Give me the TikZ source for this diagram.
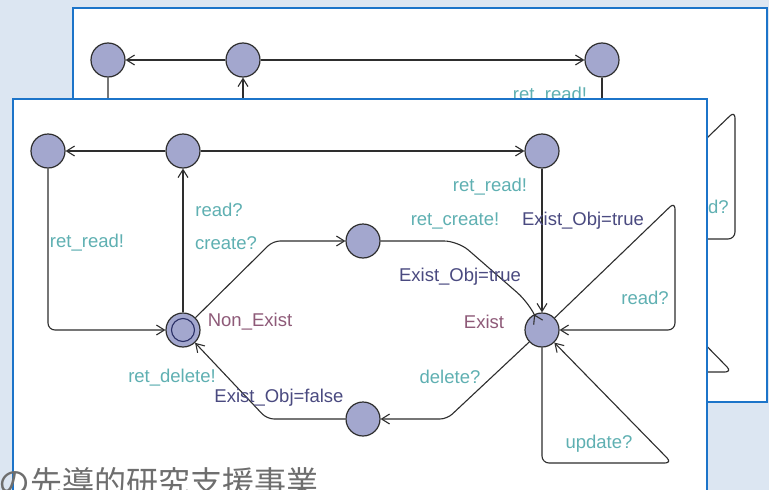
\documentclass[tikz,border=0pt]{standalone}
\usepackage{fontspec}
\setmainfont{Liberation Sans}
\newfontfamily\jpfont{Noto Sans CJK JP}
\usetikzlibrary{arrows.meta}

\definecolor{pagebg}{HTML}{DCE6F2}
\definecolor{frameblue}{HTML}{1C74C9}
\definecolor{locfill}{HTML}{A3A7CE}
\definecolor{edgegray}{HTML}{2E2E2E}
\definecolor{innerring}{HTML}{2A2F66}
\definecolor{synclabel}{HTML}{5FB0B2}
\definecolor{updlabel}{HTML}{4A4A80}
\definecolor{loclabel}{HTML}{8E5A78}
\definecolor{footgray}{HTML}{6E6E6E}

\tikzset{
  panel/.style={fill=white, draw=frameblue, line width=2pt},
  loc/.style={circle, draw=edgegray, fill=locfill, line width=1.2pt,
              minimum size=34pt, inner sep=0pt},
  trans/.style={draw=edgegray, line width=1.1pt, rounded corners=7pt,
                -{Straight Barb[length=8pt,width=10pt]}},
  lbl/.style={inner sep=0pt, font=\fontsize{18.5}{22}\selectfont},
  sync/.style={lbl, text=synclabel},
  upd/.style={lbl, text=updlabel},
  locname/.style={lbl, text=loclabel},
}

% One copy of the automaton: locations, transitions and labels
\newcommand\objectmodel{%
  \node[loc] (A) at (48,151) {};
  \node[loc] (B) at (183,151) {};
  \node[loc] (C) at (542,151) {};
  \node[loc] (D) at (363,241) {};
  \node[loc] (N) at (183,330) {};
  \node[loc] (E) at (542,330) {};
  \node[loc] (F) at (363,419) {};
  \draw[innerring, line width=1.1pt] (N.center) circle[radius=11.5pt];
  % transitions
  \draw[trans] (B) -- (A);
  \draw[trans] (B) -- (C);
  \draw[trans] (N) -- (B);
  \draw[trans] (A) |- (N);
  \draw[trans] (N) -- (273,241) -- (D);
  \draw[trans, rounded corners=14pt] (D) -- (458,241) -- (528,302) -- (E);
  \draw[trans] (C) -- (E);
  \draw[trans] (E) -- (675,202) -- (675,330) -- (E);
  \draw[trans] (E) -- (542,463) -- (672,463) -- (E);
  \draw[trans] (E) -- (447,419) -- (F);
  \draw[trans] (F) -- (267,419) -- (N);
  % labels
  \node[sync] (l1) at (87,243) {ret\_read!};
  \node[sync] (l2) at (219,210) {read?};
  \node[sync] (l3) at (226,243) {create?};
  \node[sync] (l4) at (490,187) {ret\_read!};
  \node[sync] (l5) at (455,221) {ret\_create!};
  \node[upd] (l6) at (583,221) {Exist\_Obj=true};
  \node[upd] (l7) at (460,277) {Exist\_Obj=true};
  \node[locname] (l8) at (484,322) {Exist};
  \node[sync] (l9) at (645,298) {read?};
  \node[locname] (l10) at (250,322) {Non\_Exist};
  \node[sync] (l11) at (172,378) {ret\_delete!};
  \node[upd] (l12) at (279,398) {Exist\_Obj=false};
  \node[sync] (l13) at (450,377) {delete?};
  \node[sync] (l14) at (599,444) {update?};
}

\begin{document}
\begin{tikzpicture}[x=1pt, y=-1pt]
  \useasboundingbox (0,0) rectangle (769,490);
  \clip (0,0) rectangle (769,490);
  \fill[pagebg] (0,0) rectangle (769,490);

  % back sheet
  \draw[panel] (73,8) rectangle (767,402);
  \begin{scope}[shift={(60,-91)}, name prefix=back-]
    \objectmodel
  \end{scope}

  % front sheet
  \draw[panel] (13,99) rectangle (707,510);
  \begin{scope}[name prefix=front-]
    \objectmodel
  \end{scope}

  % footer text
  \node[anchor=base west, inner sep=0pt, text=footgray,
        font=\jpfont\fontsize{32}{36}\selectfont] (footer) at (-2,494)
        {の先導的研究支援事業};
\end{tikzpicture}
\end{document}
